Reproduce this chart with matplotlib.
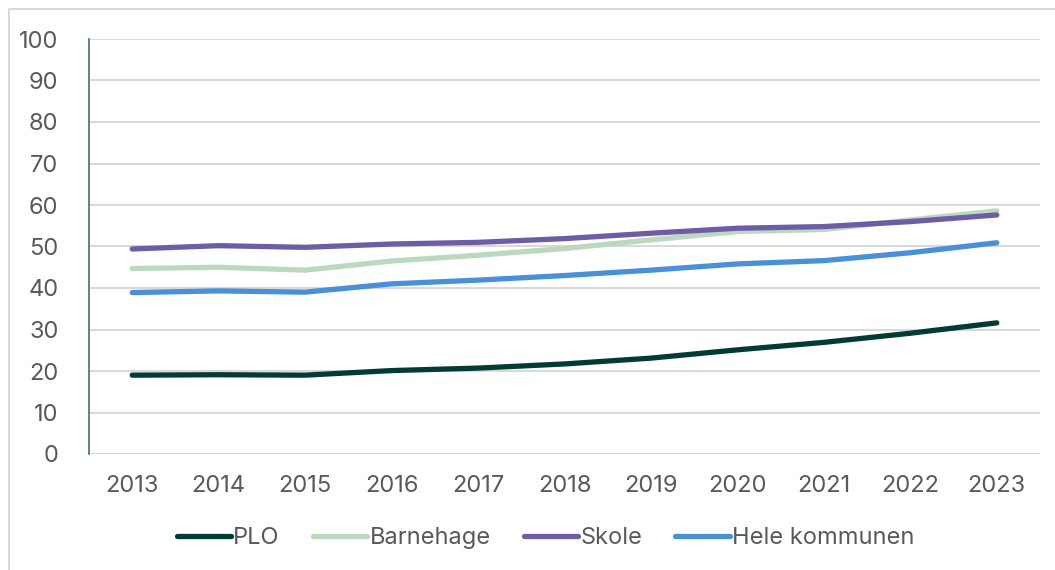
import matplotlib
matplotlib.use("Agg")
import matplotlib.pyplot as plt
from matplotlib.patches import Rectangle

years = [2013, 2014, 2015, 2016, 2017, 2018, 2019, 2020, 2021, 2022, 2023]
plo = [19.0, 19.1, 19.0, 20.1, 20.7, 21.7, 23.1, 25.1, 26.9, 29.1, 31.6]
barnehage = [44.7, 45.0, 44.3, 46.5, 47.9, 49.5, 51.6, 53.6, 54.1, 56.4, 58.6]
skole = [49.4, 50.2, 49.8, 50.6, 51.0, 51.9, 53.2, 54.4, 54.8, 56.0, 57.6]
hele = [38.9, 39.3, 39.0, 41.0, 41.9, 43.0, 44.3, 45.8, 46.6, 48.5, 50.9]

series = [
    ("PLO", plo, "#023b34"),
    ("Barnehage", barnehage, "#bcd9c0"),
    ("Skole", skole, "#6e5ca6"),
    ("Hele kommunen", hele, "#4a90d9"),
]

plt.rcParams["font.family"] = ["Inter", "DejaVu Sans"]
text_color = "#595959"

fig = plt.figure(figsize=(10.55, 5.7), dpi=100)
fig.patches.append(Rectangle((9 / 1055, -0.1), 1.2, 1 - 9 / 570 + 0.1, transform=fig.transFigure,
                             fill=False, edgecolor="#d9d9d9", linewidth=1.5))
ax = fig.add_axes([89 / 1055, 1 - 454 / 570, (1040 - 89) / 1055, (454 - 39) / 570])

x = list(range(len(years)))
for name, vals, color in series:
    ax.plot(x, vals, color=color, linewidth=3.8, solid_capstyle="round", label=name, zorder=3)

ax.set_xlim(-0.5, len(years) - 0.5)
ax.set_ylim(0, 100)
ax.set_yticks(range(0, 101, 10))
ax.set_xticks(x)
ax.set_xticklabels([str(y) for y in years])
ax.grid(axis="y", color="#d9d9d9", linewidth=1.5)
ax.set_axisbelow(True)
for s in ["top", "right", "bottom"]:
    ax.spines[s].set_visible(False)
ax.spines["left"].set_color("#3f6e68")
ax.spines["left"].set_linewidth(1.2)
ax.tick_params(axis="both", length=0, labelsize=17, labelcolor=text_color)
ax.tick_params(axis="y", pad=22)
ax.tick_params(axis="x", pad=15)

leg = ax.legend(loc="upper center", bbox_to_anchor=(0.48, -0.125), ncol=4, frameon=False,
                fontsize=17, handlelength=2.3, handletextpad=0.1, columnspacing=1.4)
for t in leg.get_texts():
    t.set_color(text_color)

fig.savefig("out.png", dpi=100)
